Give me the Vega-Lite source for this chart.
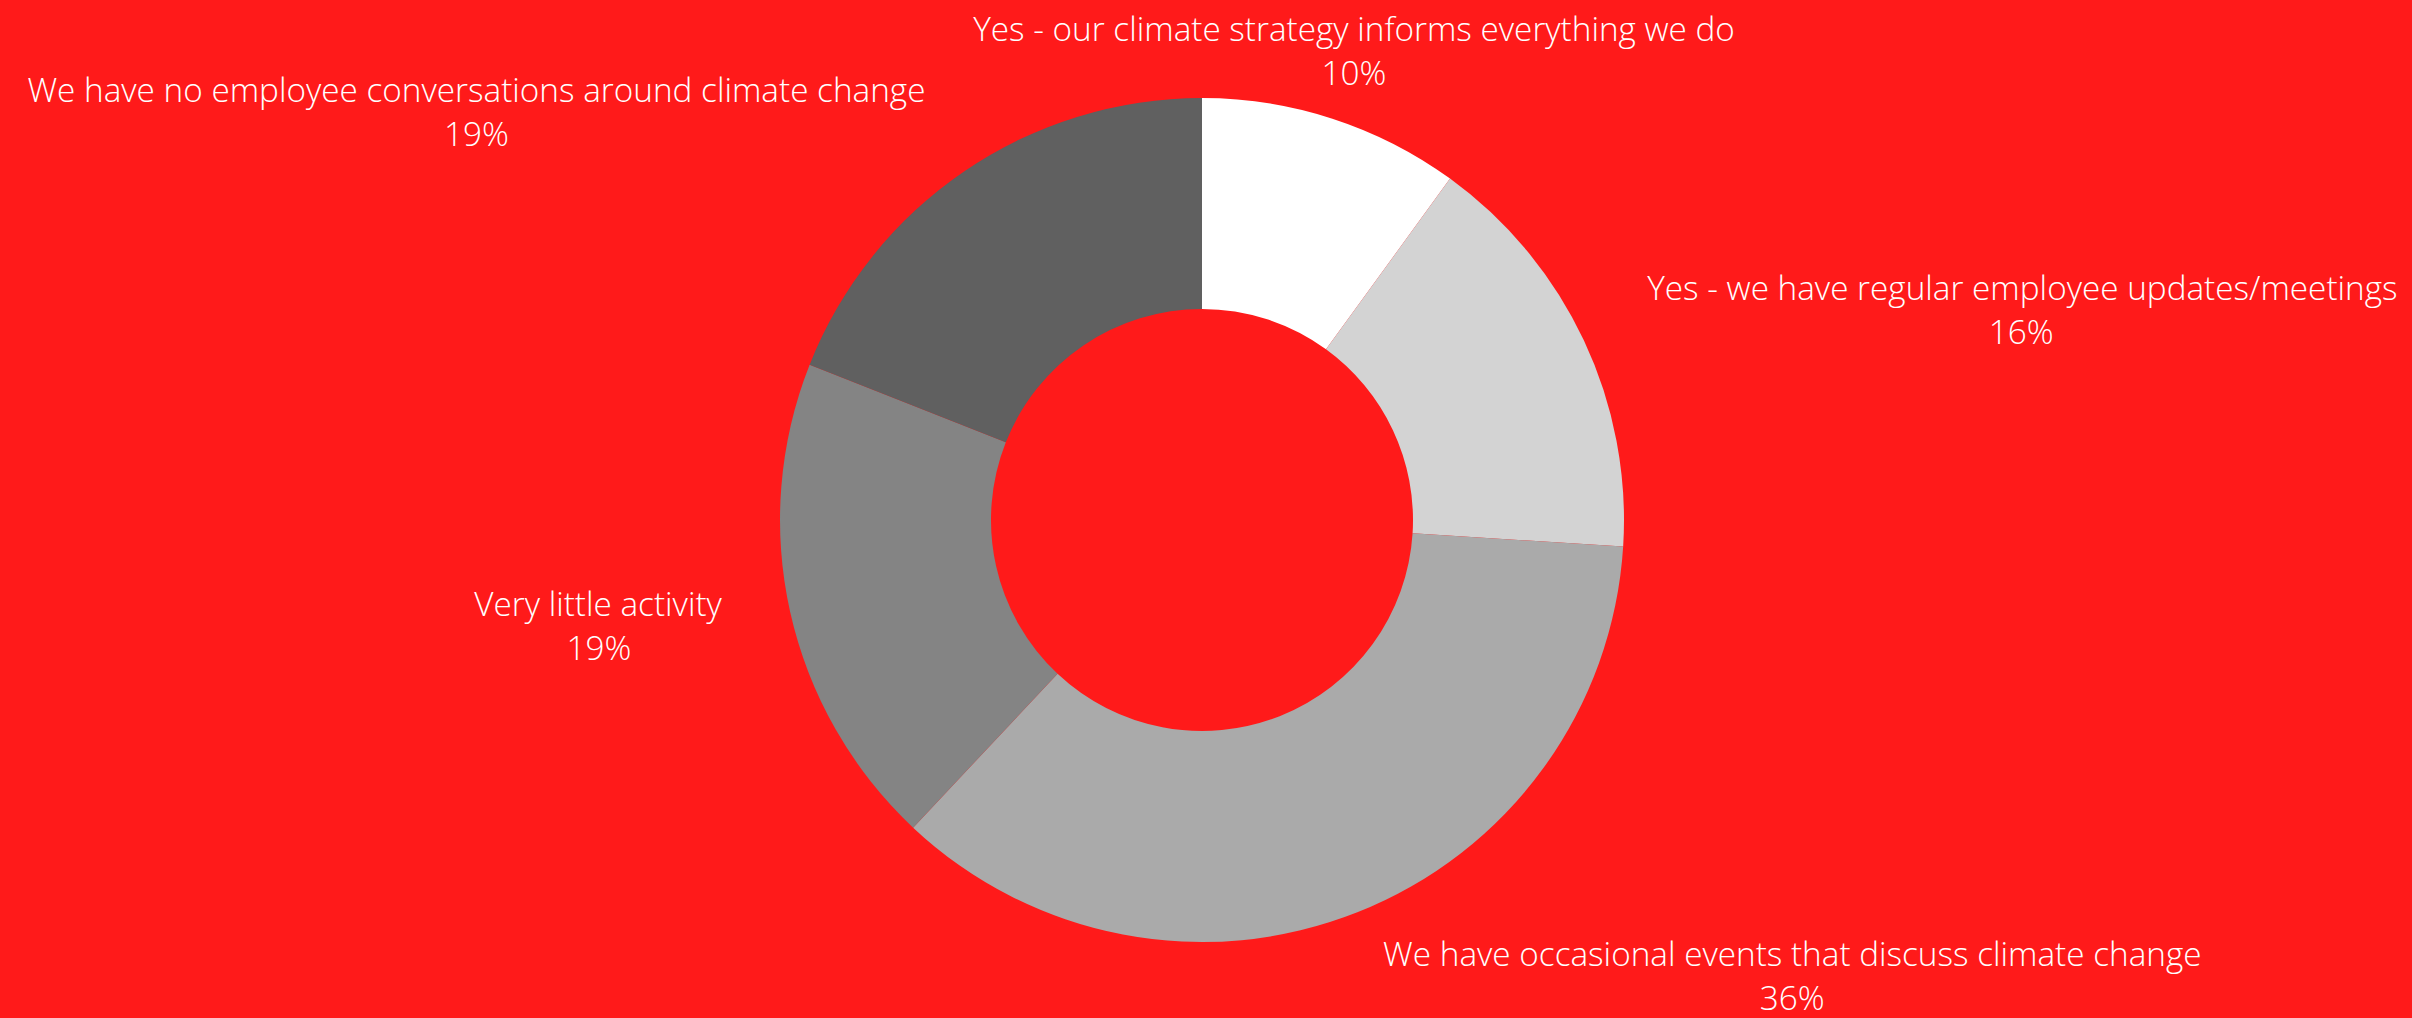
{
  "$schema": "https://vega.github.io/schema/vega-lite/v6.json",
  "width": 2412,
  "height": 1018,
  "autosize": {"type": "fit", "contains": "padding"},
  "padding": {"left": 0, "right": 8, "top": 22, "bottom": 0},
  "background": "#FF1A1A",
  "view": {"stroke": null},
  "data": {
    "values": [
      {"ord": 1, "label": "Yes - our climate strategy informs everything we do", "share": 0.10},
      {"ord": 2, "label": "Yes - we have regular employee updates/meetings", "share": 0.16},
      {"ord": 3, "label": "We have occasional events that discuss climate change", "share": 0.36},
      {"ord": 4, "label": "Very little activity", "share": 0.19},
      {"ord": 5, "label": "We have no employee conversations around climate change", "share": 0.19}
    ]
  },
  "encoding": {
    "theta": {"field": "share", "type": "quantitative", "stack": true},
    "order": {"field": "ord", "type": "quantitative"}
  },
  "layer": [
    {
      "mark": {"type": "arc", "outerRadius": 422, "innerRadius": 211, "stroke": null},
      "encoding": {
        "color": {
          "field": "label", "type": "nominal", "legend": null,
          "scale": {
            "domain": [
              "Yes - our climate strategy informs everything we do",
              "Yes - we have regular employee updates/meetings",
              "We have occasional events that discuss climate change",
              "Very little activity",
              "We have no employee conversations around climate change"
            ],
            "range": ["#FFFFFF", "#D3D3D3", "#AAAAAA", "#848484", "#606060"]
          }
        }
      }
    },
    {
      "mark": {"type": "text", "radius": 492, "align": "center", "baseline": "alphabetic", "dy": -11, "font": "Open Sans", "fontSize": 33.3, "fontWeight": 300, "color": "#FFFFFF"},
      "encoding": {"text": {"field": "label", "condition": {"test": "datum.ord !== 1", "value": ""}}}
    },
    {
      "mark": {"type": "text", "radius": 492, "align": "left", "baseline": "alphabetic", "dy": -11, "font": "Open Sans", "fontSize": 33.3, "fontWeight": 300, "color": "#FFFFFF"},
      "encoding": {"text": {"field": "label", "condition": {"test": "datum.ord !== 2 && datum.ord !== 3", "value": ""}}}
    },
    {
      "mark": {"type": "text", "radius": 492, "align": "right", "baseline": "alphabetic", "dy": -11, "font": "Open Sans", "fontSize": 33.3, "fontWeight": 300, "color": "#FFFFFF"},
      "encoding": {"text": {"field": "label", "condition": {"test": "datum.ord !== 4 && datum.ord !== 5", "value": ""}}}
    },
    {
      "mark": {"type": "text", "radius": 492, "align": "center", "baseline": "alphabetic", "dy": 33, "font": "Open Sans", "fontSize": 33.3, "fontWeight": 300, "color": "#FFFFFF"},
      "encoding": {"text": {"field": "share", "format": ".0%", "condition": {"test": "datum.ord !== 1", "value": ""}}}
    },
    {
      "mark": {"type": "text", "radius": 492, "align": "center", "baseline": "alphabetic", "dx": 374, "dy": 33, "font": "Open Sans", "fontSize": 33.3, "fontWeight": 300, "color": "#FFFFFF"},
      "encoding": {"text": {"field": "share", "format": ".0%", "condition": {"test": "datum.ord !== 2", "value": ""}}}
    },
    {
      "mark": {"type": "text", "radius": 492, "align": "center", "baseline": "alphabetic", "dx": 409, "dy": 33, "font": "Open Sans", "fontSize": 33.3, "fontWeight": 300, "color": "#FFFFFF"},
      "encoding": {"text": {"field": "share", "format": ".0%", "condition": {"test": "datum.ord !== 3", "value": ""}}}
    },
    {
      "mark": {"type": "text", "radius": 492, "align": "center", "baseline": "alphabetic", "dx": -123, "dy": 33, "font": "Open Sans", "fontSize": 33.3, "fontWeight": 300, "color": "#FFFFFF"},
      "encoding": {"text": {"field": "share", "format": ".0%", "condition": {"test": "datum.ord !== 4", "value": ""}}}
    },
    {
      "mark": {"type": "text", "radius": 492, "align": "center", "baseline": "alphabetic", "dx": -449, "dy": 33, "font": "Open Sans", "fontSize": 33.3, "fontWeight": 300, "color": "#FFFFFF"},
      "encoding": {"text": {"field": "share", "format": ".0%", "condition": {"test": "datum.ord !== 5", "value": ""}}}
    }
  ]
}
